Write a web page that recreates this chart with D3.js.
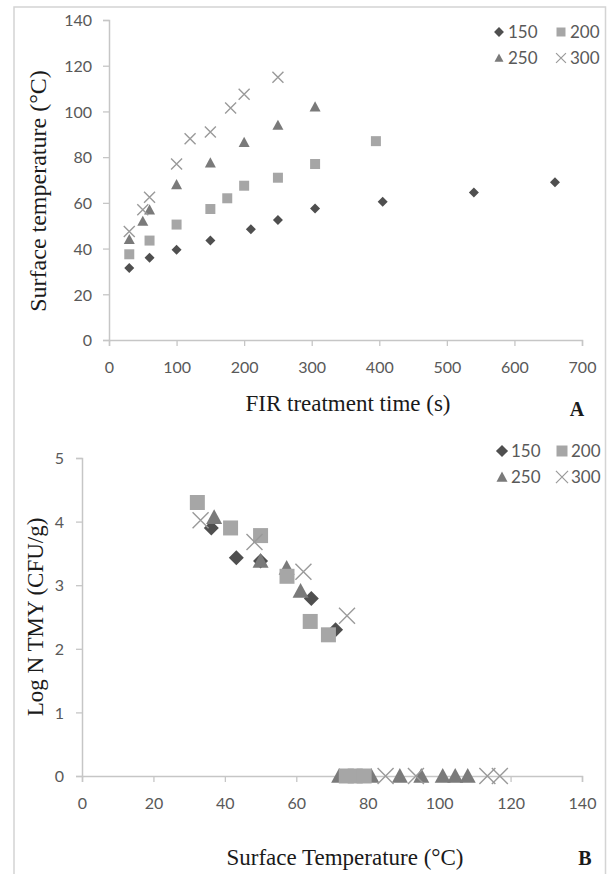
<!DOCTYPE html>
<html><head><meta charset="utf-8">
<script src="https://cdn.jsdelivr.net/npm/d3@7"></script>
<style>
html,body{margin:0;padding:0;background:#fff;}
svg{display:block;}
.tick text{font-family:Lato,"Open Sans",sans-serif;font-size:16px;fill:#595959;}
</style></head>
<body>
<script>
// ---------- Data: panel A (surface temperature vs FIR time) ----------
const seriesNames = ["150", "200", "250", "300"];
const timeA150 = [30, 60, 100, 150, 210, 250, 305, 405, 540, 660];
const tempA150 = [31.5, 36, 39.5, 43.5, 48.5, 52.5, 57.5, 60.5, 64.5, 69];
const timeA200 = [30, 60, 100, 150, 175, 200, 250, 305, 395];
const tempA200 = [37.5, 43.5, 50.5, 57.3, 62, 67.5, 71, 77, 87];
const timeA250 = [30, 50, 60, 100, 150, 200, 250, 305];
const tempA250 = [44, 52, 57, 68, 77.5, 86.5, 94, 102];
const timeA300 = [30, 50, 60, 100, 120, 150, 180, 200, 250];
const tempA300 = [47.5, 57, 62.5, 77, 88, 91, 101.5, 107.5, 115];
const ticksAx = [0, 100, 200, 300, 400, 500, 600, 700];
const ticksAy = [0, 20, 40, 60, 80, 100, 120, 140];

// ---------- Data: panel B (log N TMY vs surface temperature) ----------
const tempB150 = [36.2, 43.2, 50, 64.2, 71];
const logB150  = [3.9, 3.43, 3.38, 2.79, 2.3];
const tempB200 = [32.3, 41.6, 50, 57.4, 63.9, 69, 74, 76.5, 79];
const logB200  = [4.3, 3.9, 3.78, 3.14, 2.43, 2.22, 0, 0, 0];
const tempB250 = [37, 50, 57.3, 61.2, 72, 81, 89, 95, 101, 104.5, 108];
const logB250  = [4.07, 3.38, 3.27, 2.91, 0, 0, 0, 0, 0, 0, 0];
const tempB300 = [33.2, 48.3, 62, 74.2, 85, 93.5, 113.5, 117];
const logB300  = [4.02, 3.68, 3.21, 2.52, 0, 0, 0, 0];
const ticksBx = [0, 20, 40, 60, 80, 100, 120, 140];
const ticksBy = [0, 1, 2, 3, 4, 5];

// ---------- Drawing ----------
const W = 611, H = 874;
const svg = d3.select("body").append("svg").attr("width", W).attr("height", H);

// outer frame (left, top, right)
svg.append("path").attr("d", "M14,874 L14,7 L605.5,7 L605.5,874")
  .attr("fill", "none").attr("stroke", "#d4d4d4").attr("stroke-width", 1.5);

const styles = {
  "150": {type: "diamond", fill: "#4f4f4f"},
  "200": {type: "square", fill: "#a6a6a6"},
  "250": {type: "triangle", fill: "#7a7a7a"},
  "300": {type: "cross", fill: "none", stroke: "#9a9a9a"}
};

function markerPath(type, s) {
  const h = s / 2;
  if (type === "diamond") return `M0,${-h}L${h},0L0,${h}L${-h},0Z`;
  if (type === "square") return `M${-h},${-h}H${h}V${h}H${-h}Z`;
  if (type === "triangle") return `M0,${-h}L${h},${h * 0.85}L${-h},${h * 0.85}Z`;
  return `M${-h},${-h}L${h},${h}M${-h},${h}L${h},${-h}`;
}

function drawMarkers(g, xs, ys, name, sizes, xScale, yScale) {
  const st = styles[name];
  const data = xs.map((x, i) => ({x, y: ys[i]}));
  g.append("g").selectAll("path").data(data).join("path")
    .attr("transform", d => `translate(${xScale(d.x)},${yScale(d.y)})`)
    .attr("d", markerPath(st.type, sizes[st.type]))
    .attr("fill", st.fill)
    .attr("stroke", st.stroke || "none")
    .attr("stroke-width", st.stroke ? 1.4 : 0);
}

function styleAxis(g) {
  g.select(".domain").attr("stroke", "#c6c6c6").attr("stroke-width", 1.5);
  g.selectAll(".tick line").attr("stroke", "#c6c6c6").attr("stroke-width", 1.3);
}

function legend(g, x0, y0, colGap, rowGap, s, fontSize) {
  const items = [["150", 0, 0], ["200", 1, 0], ["250", 0, 1], ["300", 1, 1]];
  items.forEach(([name, c, r]) => {
    const st = styles[name];
    const x = x0 + c * colGap, y = y0 + r * rowGap;
    const sz = st.type === "diamond" ? s * 1.1 : (st.type === "cross" ? s * 1.1 : s);
    g.append("path").attr("transform", `translate(${x},${y})`)
      .attr("d", markerPath(st.type, sz))
      .attr("fill", st.fill).attr("stroke", st.stroke || "none").attr("stroke-width", st.stroke ? 1.2 : 0);
    g.append("text").attr("x", x + 9).attr("y", y).attr("dy", "0.36em")
      .attr("font-family", "Lato, 'Open Sans', sans-serif").attr("font-size", fontSize)
      .attr("fill", "#595959").text(name);
  });
}

// ----- Panel A -----
const xA = d3.scaleLinear().domain([0, 700]).range([109, 582]);
const yA = d3.scaleLinear().domain([0, 140]).range([340, 20]);
const gA = svg.append("g");

const axAx = gA.append("g").attr("transform", `translate(0,${yA(0)})`)
  .call(d3.axisBottom(xA).tickValues(ticksAx).tickFormat(d3.format("d")).tickSize(6).tickSizeOuter(6));
axAx.selectAll(".tick text").attr("y", 27).attr("dy", "0.36em");
styleAxis(axAx);
const axAy = gA.append("g").attr("transform", `translate(${xA(0)},0)`)
  .call(d3.axisLeft(yA).tickValues(ticksAy).tickFormat(d3.format("d")).tickSize(6).tickSizeOuter(6).tickPadding(11));
axAy.selectAll(".tick text").attr("dy", "0.36em");
styleAxis(axAy);

const sizesA = {diamond: 10, square: 10, triangle: 11, cross: 11};
drawMarkers(gA, timeA150, tempA150, "150", sizesA, xA, yA);
drawMarkers(gA, timeA250, tempA250, "250", sizesA, xA, yA);
drawMarkers(gA, timeA200, tempA200, "200", sizesA, xA, yA);
drawMarkers(gA, timeA300, tempA300, "300", sizesA, xA, yA);

legend(gA, 499, 32, 62, 26, 9, 17);

gA.append("text").attr("x", 348).attr("y", 403).attr("dy", "0.35em").attr("text-anchor", "middle")
  .attr("font-family", "'Liberation Serif', 'Times New Roman', serif").attr("font-size", 23).attr("fill", "#1a1a1a")
  .text("FIR treatment time (s)");
gA.append("text").attr("transform", "translate(38,191) rotate(-90)").attr("dy", "0.35em").attr("text-anchor", "middle")
  .attr("font-family", "'Liberation Serif', 'Times New Roman', serif").attr("font-size", 24).attr("fill", "#1a1a1a")
  .text("Surface temperature (°C)");
gA.append("text").attr("x", 577).attr("y", 409).attr("dy", "0.35em").attr("text-anchor", "middle")
  .attr("font-family", "'Liberation Serif', 'Times New Roman', serif").attr("font-size", 20).attr("font-weight", "bold").attr("fill", "#1a1a1a")
  .text("A");

// ----- Panel B -----
const xB = d3.scaleLinear().domain([0, 140]).range([82, 582]);
const yB = d3.scaleLinear().domain([0, 5]).range([776, 458]);
const gB = svg.append("g");

const axBx = gB.append("g").attr("transform", `translate(0,${yB(0)})`)
  .call(d3.axisBottom(xB).tickValues(ticksBx).tickFormat(d3.format("d")).tickSize(6).tickSizeOuter(6));
axBx.selectAll(".tick text").attr("y", 27).attr("dy", "0.36em");
styleAxis(axBx);
const axBy = gB.append("g").attr("transform", `translate(${xB(0)},0)`)
  .call(d3.axisLeft(yB).tickValues(ticksBy).tickFormat(d3.format("d")).tickSize(6).tickSizeOuter(6).tickPadding(12));
axBy.selectAll(".tick text").attr("dy", "0.36em");
styleAxis(axBy);

const sizesB = {diamond: 15, square: 15, triangle: 16, cross: 16};
drawMarkers(gB, tempB150, logB150, "150", sizesB, xB, yB);
drawMarkers(gB, tempB250, logB250, "250", sizesB, xB, yB);
drawMarkers(gB, tempB200, logB200, "200", sizesB, xB, yB);
drawMarkers(gB, tempB300, logB300, "300", sizesB, xB, yB);

legend(gB, 502, 451, 60, 26, 11, 17);

gB.append("text").attr("x", 345).attr("y", 857).attr("dy", "0.35em").attr("text-anchor", "middle")
  .attr("font-family", "'Liberation Serif', 'Times New Roman', serif").attr("font-size", 23).attr("fill", "#1a1a1a")
  .text("Surface Temperature (°C)");
gB.append("text").attr("transform", "translate(35,617) rotate(-90)").attr("dy", "0.35em").attr("text-anchor", "middle")
  .attr("font-family", "'Liberation Serif', 'Times New Roman', serif").attr("font-size", 23).attr("fill", "#1a1a1a")
  .text("Log N TMY (CFU/g)");
gB.append("text").attr("x", 585).attr("y", 858).attr("dy", "0.35em").attr("text-anchor", "middle")
  .attr("font-family", "'Liberation Serif', 'Times New Roman', serif").attr("font-size", 20).attr("font-weight", "bold").attr("fill", "#1a1a1a")
  .text("B");
</script>
</body></html>
